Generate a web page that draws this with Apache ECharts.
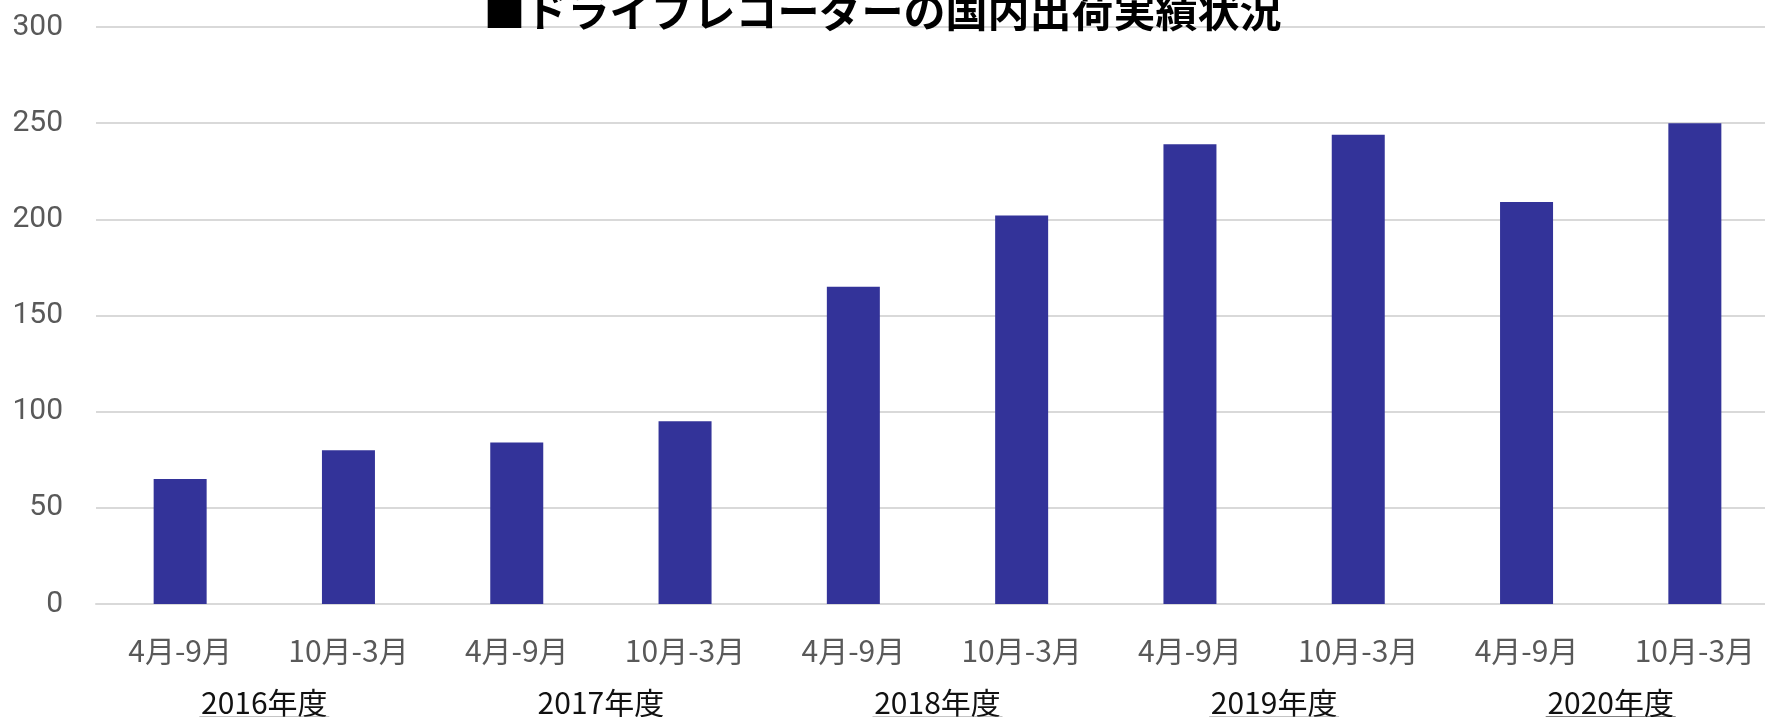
<!DOCTYPE html>
<html>
<head>
<meta charset="utf-8">
<script src="https://cdn.jsdelivr.net/npm/echarts@6/dist/echarts.min.js"></script>
<style>
  html, body { margin: 0; padding: 0; background: #fff; }
  #main { width: 1765px; height: 717px; }
</style>
</head>
<body>
<div id="main"></div>
<script>
// data
var periods = ['4月-9月', '10月-3月', '4月-9月', '10月-3月', '4月-9月', '10月-3月', '4月-9月', '10月-3月', '4月-9月', '10月-3月'];
var years = ['2016年度', '2017年度', '2018年度', '2019年度', '2020年度'];
var shipments = [65, 80, 84, 95, 165, 202, 239, 244, 209, 250];
// underline colour under each year label ('' = none)
var yearUnderline = ['#8c8c8c', '', '#8c8c8c', '#8c8c8c', '#000000'];

var chart = echarts.init(document.getElementById('main'));

var yearRich = {
    t: { fontSize: 30, color: '#111', fontFamily: 'Noto Sans CJK JP', lineHeight: 26, align: 'center' }
};
for (var i = 0; i < yearUnderline.length; i++) {
    if (yearUnderline[i]) {
        yearRich['u' + i] = { width: 130, height: 2, fontSize: 2, lineHeight: 3, backgroundColor: yearUnderline[i], align: 'center' };
    }
}

var option = {
    backgroundColor: '#ffffff',
    animation: false,
    title: {
        text: '■ドライブレコーダーの国内出荷実績状況',
        left: 'center',
        top: -15,
        textStyle: {
            fontSize: 42,
            fontWeight: 'bold',
            color: '#000',
            fontFamily: 'Noto Sans CJK JP'
        }
    },
    grid: {
        left: 96,
        top: 27,
        width: 1683,
        height: 577,
        containLabel: false,
        outerBoundsMode: 'none'
    },
    xAxis: [
        {
            type: 'category',
            data: periods,
            axisLine: { show: true, lineStyle: { color: '#d9d9d9', width: 2 } },
            axisTick: { show: false },
            axisLabel: {
                margin: 32,
                fontSize: 30,
                color: '#595959',
                fontFamily: 'Noto Sans CJK JP'
            }
        },
        {
            type: 'category',
            position: 'bottom',
            data: years,
            axisLine: { show: false },
            axisTick: { show: false },
            splitLine: { show: false },
            axisLabel: {
                margin: 86,
                formatter: function (v, idx) {
                    if (yearUnderline[idx]) return '{t|' + v + '}\n{u' + idx + '| }';
                    return '{t|' + v + '}';
                },
                rich: yearRich,
                verticalAlign: 'top'
            }
        }
    ],
    yAxis: {
        type: 'value',
        min: 0,
        max: 300,
        interval: 50,
        axisLine: { show: false },
        axisTick: { show: false },
        splitLine: { lineStyle: { color: '#d9d9d9', width: 2 } },
        axisLabel: {
            margin: 33,
            fontSize: 30,
            color: '#595959',
            fontFamily: 'Roboto',
            padding: [0, 0, 7, 0]
        }
    },
    series: [
        {
            name: '出荷実績',
            type: 'bar',
            data: shipments,
            barWidth: 53,
            itemStyle: { color: '#333399' }
        }
    ]
};

chart.setOption(option);
</script>
</body>
</html>
